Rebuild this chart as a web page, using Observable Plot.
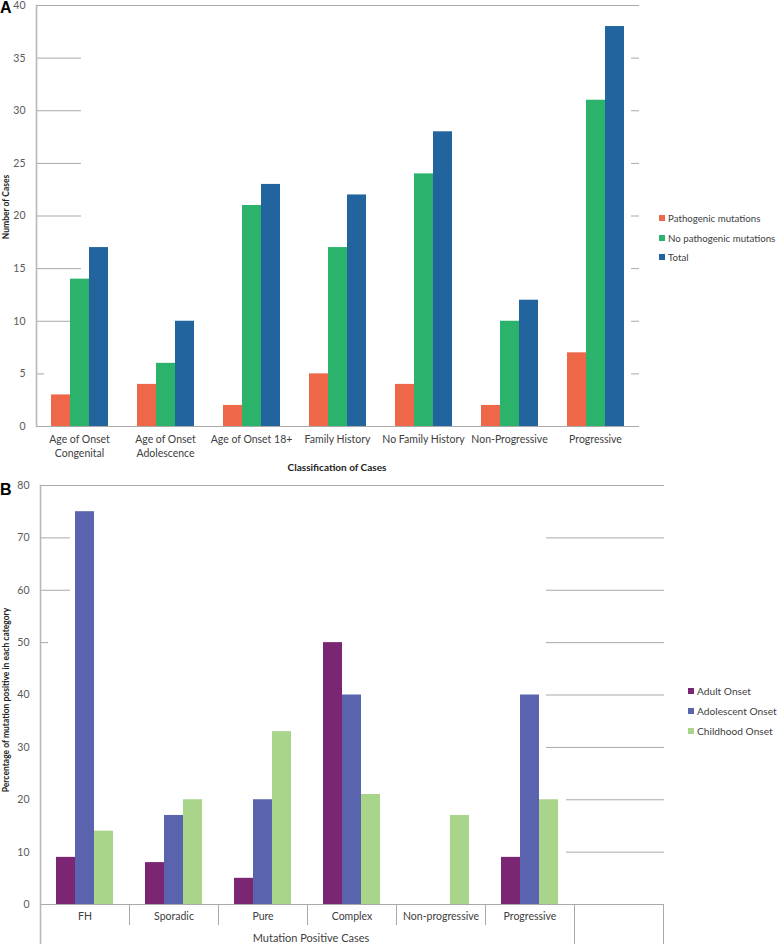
<!DOCTYPE html>
<html>
<head>
<meta charset="utf-8">
<script src="https://cdn.jsdelivr.net/npm/d3@7"></script>
<script src="https://cdn.jsdelivr.net/npm/@observablehq/plot@0.6"></script>
<style>
  html, body { margin: 0; padding: 0; background: #fff; }
  #root { position: relative; width: 779px; height: 944px; overflow: hidden; font-family: Lato, "Open Sans", sans-serif; color: #404040; }
  .abs { position: absolute; white-space: nowrap; }
  .panel-letter { font-family: "Liberation Sans", Arial, sans-serif; font-weight: bold; font-size: 16px; line-height: 16px; color: #000; }
  .ytitle { font-weight: bold; font-size: 8.5px; color: #222; transform: translate(-50%, -50%) rotate(-90deg); }
  .legend-row { display: flex; align-items: center; font-size: 10.2px; color: #404040; }
  .sw { width: 6px; height: 6px; margin-right: 3px; }
</style>
</head>
<body>
<div id="root"></div>
<script>
// ---------- Panel A data ----------
const catsA = ["Age of Onset\nCongenital", "Age of Onset\nAdolescence", "Age of Onset 18+", "Family History", "No Family History", "Non-Progressive", "Progressive"];
const seriesA = ["Pathogenic mutations", "No pathogenic mutations", "Total"];
const pathogenicA = [3, 4, 2, 5, 4, 2, 7];
const noPathogenicA = [14, 6, 21, 17, 24, 10, 31];
const totalA = [17, 10, 23, 22, 28, 12, 38];
const colorsA = ["#EE6749", "#2BB36B", "#22649E"];
const yTicksA = [0, 5, 10, 15, 20, 25, 30, 35, 40];
const xTitleA = "Classification of Cases";
const yTitleA = "Number of Cases";

// ---------- Panel B data ----------
const catsB = ["FH", "Sporadic", "Pure", "Complex", "Non-progressive", "Progressive", " "];
const seriesB = ["Adult Onset", "Adolescent Onset", "Childhood Onset"];
const adultB = [9, 8, 5, 50, 0, 9];
const adolescentB = [75, 17, 20, 40, 0, 40];
const childhoodB = [14, 20, 33, 21, 17, 20];
const colorsB = ["#7A2672", "#5A64AE", "#A9D58B"];
const yTicksB = [0, 10, 20, 30, 40, 50, 60, 70, 80];
const xTitleB = "Mutation Positive Cases";
const yTitleB = "Percentage of mutation positive in each category";

function rows(cats, series, values) {
  const out = [];
  values[0].forEach((_, i) => series.forEach((s, j) => out.push({cat: cats[i], series: s, value: values[j][i]})));
  return out;
}
const rowsA = rows(catsA, seriesA, [pathogenicA, noPathogenicA, totalA]);
const rowsB = rows(catsB, seriesB, [adultB, adolescentB, childhoodB]);

const root = document.getElementById("root");
const GRID = "#a9a9a9";
const AXIS = "#b8b8b8";

// ---------- Panel A ----------
const hA = 476, mtA = 5, mbA = 50;
const plotA = Plot.plot({
  width: 779, height: hA,
  marginLeft: 35, marginRight: 141, marginTop: mtA, marginBottom: mbA,
  style: {fontFamily: "Lato, sans-serif", fontSize: "10px", background: "transparent", overflow: "visible"},
  fx: {domain: catsA, padding: 0, label: null},
  x: {domain: seriesA, paddingInner: 0, paddingOuter: 0.72, axis: null},
  y: {domain: [0, 40], label: null},
  color: {domain: seriesA, range: colorsA},
  marks: [
    Plot.axisY({ticks: [10, 15, 20, 25, 30, 35], tickSize: -45, tickFormat: () => "", stroke: GRID, label: null}),
    Plot.axisY({ticks: [5], tickSize: -8, tickFormat: () => "", stroke: GRID, label: null}),
    Plot.axisY({anchor: "right", ticks: [5, 10, 15, 20, 25, 30, 35], tickSize: -8, tickFormat: () => "", stroke: GRID, label: null}),
    Plot.axisY({ticks: yTicksA, tickSize: 0, tickPadding: 11, fontSize: 10.5, color: "#5a5a5a", label: null}),
    Plot.frame({anchor: "top", stroke: GRID}),
    Plot.barY(rowsA, {fx: "cat", x: "series", y: "value", fill: "series"}),
    Plot.frame({anchor: "bottom", stroke: GRID}),
    Plot.frame({anchor: "left", fx: catsA[0], stroke: AXIS, strokeWidth: 1.6}),
    Plot.axisFx({anchor: "bottom", tickSize: 0, tickPadding: 7, lineHeight: 1.3, fontSize: 10.5, color: "#404040", label: null})
  ]
});
plotA.style.position = "absolute";
plotA.style.left = "0px";
plotA.style.top = "0px";
root.appendChild(plotA);

// ---------- Panel B ----------
const topB = 480, hB = 464, mtB = 5, mbB = 40;
const phB = hB - mtB - mbB;
const plotB = Plot.plot({
  width: 779, height: hB,
  marginLeft: 37, marginRight: 114, marginTop: mtB, marginBottom: mbB,
  style: {fontFamily: "Lato, sans-serif", fontSize: "10px", background: "transparent", overflow: "visible"},
  fx: {domain: catsB, padding: 0, label: null},
  x: {domain: seriesB, paddingInner: 0, paddingOuter: 0.74, axis: null},
  y: {domain: [0, 80], label: null},
  color: {domain: seriesB, range: colorsB},
  marks: [
    Plot.axisY({ticks: [60, 70], tickSize: -30, tickFormat: () => "", stroke: GRID, label: null}),
    Plot.axisY({ticks: [50], tickSize: -8, tickFormat: () => "", stroke: GRID, label: null}),
    Plot.axisY({anchor: "right", ticks: [30, 40, 50, 60, 70], tickSize: -118, tickFormat: () => "", stroke: GRID, label: null}),
    Plot.axisY({anchor: "right", ticks: [10, 20], tickSize: -98, tickFormat: () => "", stroke: GRID, label: null}),
    Plot.axisY({ticks: yTicksB, tickSize: 0, tickPadding: 11, fontSize: 10.5, color: "#5a5a5a", label: null}),
    Plot.frame({anchor: "top", stroke: GRID}),
    Plot.barY(rowsB, {fx: "cat", x: "series", y: "value", fill: "series"}),
    Plot.frame({anchor: "bottom", stroke: GRID}),
    Plot.frame({anchor: "left", insetTop: phB, insetBottom: -20, stroke: GRID}),
    Plot.frame({anchor: "left", fx: catsB[0], insetBottom: -mbB, stroke: AXIS, strokeWidth: 1.6}),
    Plot.frame({anchor: "left", fx: catsB[6], insetTop: phB, insetBottom: -mbB, stroke: GRID}),
    Plot.frame({anchor: "right", fx: catsB[6], insetTop: phB, insetBottom: -mbB, stroke: GRID}),
    Plot.axisFx({anchor: "bottom", tickSize: 0, tickPadding: 8, fontSize: 10.5, color: "#404040", label: null})
  ]
});
plotB.style.position = "absolute";
plotB.style.left = "0px";
plotB.style.top = topB + "px";
root.appendChild(plotB);

// ---------- Text & legends ----------
function addText(html, cls, left, top, extra) {
  const d = document.createElement("div");
  d.className = "abs " + cls;
  d.style.left = left + "px";
  d.style.top = top + "px";
  if (extra) Object.assign(d.style, extra);
  d.textContent = html;
  root.appendChild(d);
  return d;
}
addText("A", "panel-letter", 0, 0);
addText("B", "panel-letter", 0, 482);
addText(yTitleA, "ytitle", 6, 207);
addText(yTitleB, "ytitle", 6, 700);
addText(xTitleA, "", 337, 467, {transform: "translate(-50%, -50%)", fontWeight: "bold", fontSize: "10px", color: "#222"});
addText(xTitleB, "", 311, 937, {transform: "translate(-50%, -50%)", fontSize: "11px", color: "#404040"});

function addLegend(series, colors, left, top, step, size) {
  series.forEach((s, i) => {
    const row = document.createElement("div");
    row.className = "abs legend-row";
    row.style.left = left + "px";
    row.style.top = (top + i * step) + "px";
    row.style.transform = "translateY(-50%)";
    row.style.fontSize = size + "px";
    const sw = document.createElement("div");
    sw.className = "sw";
    sw.style.background = colors[i];
    const t = document.createElement("span");
    t.textContent = s;
    row.appendChild(sw);
    row.appendChild(t);
    root.appendChild(row);
  });
}
addLegend(seriesA, colorsA, 659, 218, 19.7, 9.7);
addLegend(seriesB, colorsB, 688, 691, 20, 10.2);
</script>
</body>
</html>
